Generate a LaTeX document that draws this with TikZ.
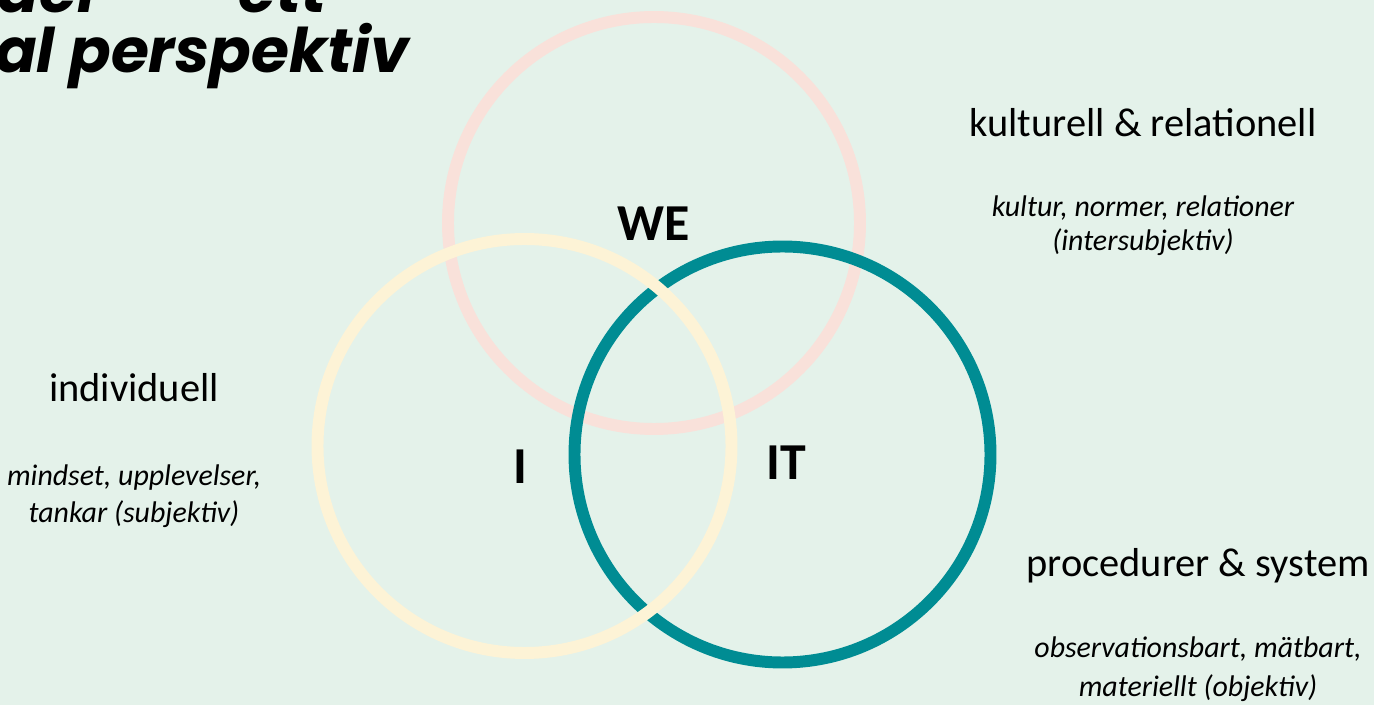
\documentclass[tikz,border=0pt]{standalone}
\usepackage{fontspec}
\setmainfont{Carlito}
\newfontfamily\titlefont{Poppins}
\definecolor{bgmint}{HTML}{E4F2EA}
\definecolor{ringwe}{HTML}{F9E1DA}
\definecolor{ringi}{HTML}{FDF3D6}
\definecolor{ringit}{HTML}{008C93}
\begin{document}
\begin{tikzpicture}[x=0.02cm,y=-0.02cm,
  ring/.style={line width=6.8pt},
  head/.style={anchor=base,font=\fontsize{23}{27}\selectfont},
  note/.style={anchor=base,font=\fontsize{17}{20}\selectfont\itshape},
  quad/.style={anchor=base,font=\fontsize{29.5}{34}\selectfont\bfseries},
  ttl/.style={anchor=base east,font=\titlefont\fontsize{35}{40}\selectfont\bfseries\itshape}]
  % page and background
  \fill[bgmint] (0,0) rectangle (1374,705);
  \useasboundingbox (0,0) rectangle (1374,705);
  \clip (0,0) rectangle (1374,705);

  % title (runs off the page edge)
  \node[ttl] (title1) at (333,13) {Tre niv\aa er --- ett};
  \node[ttl] (title2) at (415,73) {integral perspektiv};

  % the three rings
  \draw[ring,ringwe] (654,223) circle[radius=206];
  \draw[ring,ringit] (782.5,454.5) circle[radius=208];
  \draw[ring,ringi]  (524.5,446) circle[radius=207];

  % ring labels
  \node[quad] (we) at (654,241) {WE};
  \node[quad] (i)  at (520,484) {I};
  \node[quad] (it) at (786,480) {IT};

  % WE side
  \node[head] (weh)  at (1143,137) {kulturell \& relationell};
  \node[note] (wen1) at (1143,217) {kultur, normer, relationer};
  \node[note] (wen2) at (1143,251) {(intersubjektiv)};

  % I side
  \node[head] (ih)  at (134,402) {individuell};
  \node[note] (in1) at (134,486) {mindset, upplevelser,};
  \node[note] (in2) at (134,523) {tankar (subjektiv)};

  % IT side
  \node[head] (ith)  at (1198,577) {procedurer \& system};
  \node[note] (itn1) at (1198,658) {observationsbart, mätbart,};
  \node[note] (itn2) at (1198,697) {materiellt (objektiv)};
\end{tikzpicture}
\end{document}
